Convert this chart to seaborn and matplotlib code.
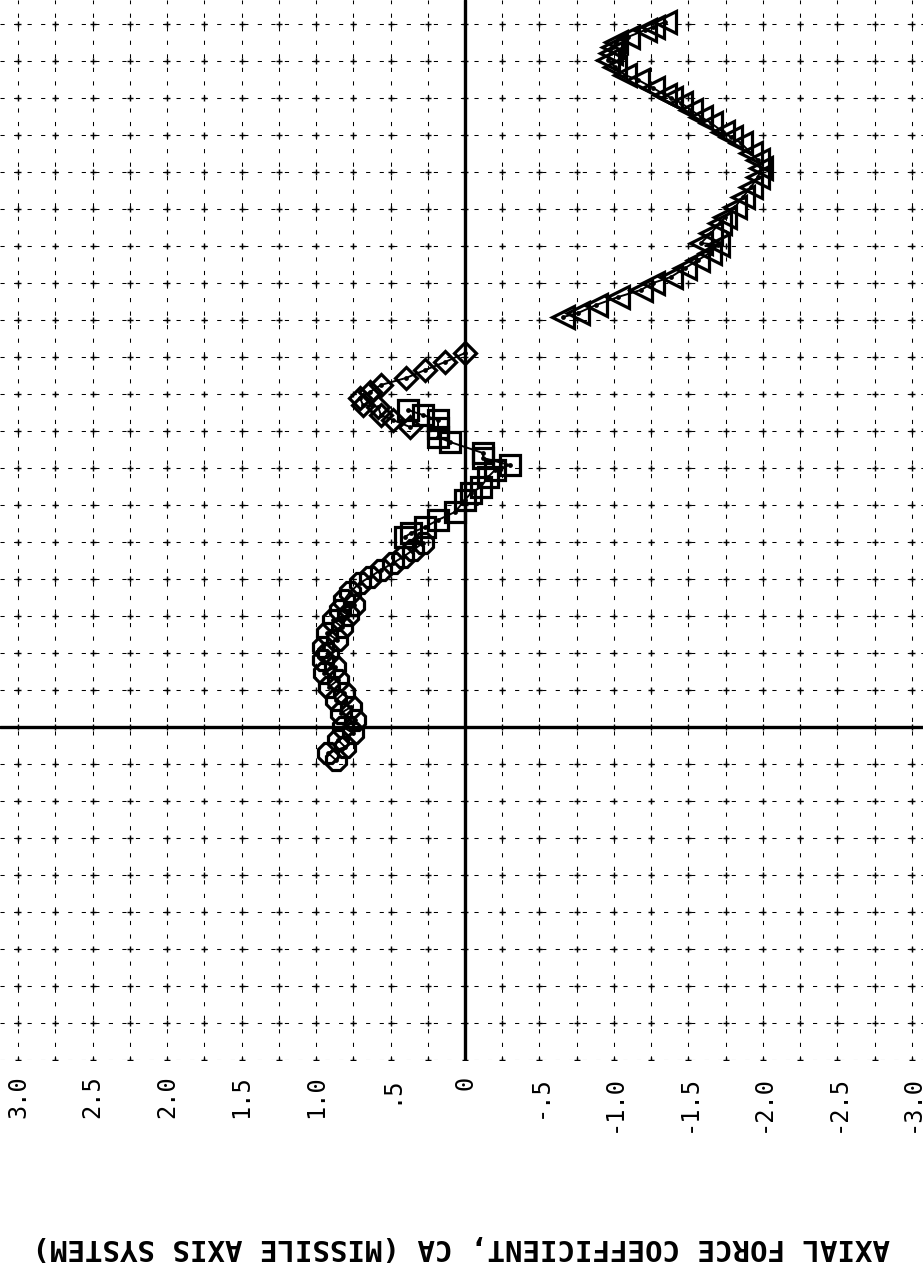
import numpy as np
import pandas as pd
import matplotlib
matplotlib.use("Agg")
import matplotlib.pyplot as plt
import seaborn as sns
from matplotlib.ticker import FixedLocator, MultipleLocator

# ---------------- data ----------------
tri_ca = [-0.658, -0.758, -0.879, -1.027, -1.181, -1.262, -1.383, -1.477, -1.564, -1.644,
          -1.698, -1.584, -1.651, -1.711, -1.745, -1.812, -1.866, -1.919, -1.966, -1.987,
          -1.966, -1.919, -1.852, -1.785, -1.732, -1.651, -1.584, -1.517, -1.450, -1.383,
          -1.342, -1.262, -1.161, -1.074, -1.007, -0.960, -0.980, -0.993, -1.013, -1.094,
          -1.208, -1.262, -1.342]
tri_y = [2.770, 2.797, 2.851, 2.905, 2.953, 3.000, 3.041, 3.101, 3.155, 3.203,
         3.257, 3.270, 3.338, 3.405, 3.446, 3.514, 3.581, 3.649, 3.716, 3.777,
         3.831, 3.878, 3.946, 3.986, 4.020, 4.081, 4.122, 4.169, 4.216, 4.250,
         4.270, 4.318, 4.372, 4.405, 4.459, 4.507, 4.554, 4.595, 4.628, 4.662,
         4.709, 4.730, 4.764]

dia_ca = [0.000, 0.134, 0.268, 0.396, 0.564, 0.638, 0.705, 0.685, 0.584, 0.564, 0.483, 0.369]
dia_y = [2.527, 2.466, 2.412, 2.358, 2.311, 2.264, 2.223, 2.176, 2.162, 2.108, 2.074, 2.027]

sq_ca = [0.383, 0.282, 0.181, 0.181, 0.181, 0.101, -0.121, -0.121, -0.302, -0.201,
         -0.154, -0.107, -0.040, 0.000, 0.067, 0.181, 0.268, 0.362, 0.403]
sq_y = [2.142, 2.108, 2.074, 2.020, 1.959, 1.926, 1.851, 1.818, 1.770, 1.736,
        1.689, 1.622, 1.581, 1.534, 1.453, 1.399, 1.351, 1.311, 1.284]

oct_ca = [0.282, 0.349, 0.416, 0.483, 0.564, 0.638, 0.705, 0.772,
          0.812, 0.745, 0.839, 0.785, 0.886, 0.826, 0.926, 0.859, 0.953, 0.919,
          0.953, 0.872, 0.946, 0.852, 0.913, 0.812, 0.866, 0.765, 0.832, 0.738,
          0.819, 0.752, 0.852, 0.805, 0.919, 0.866]
oct_y = [1.243, 1.196, 1.149, 1.108, 1.061, 1.014, 0.973, 0.912,
         0.858, 0.824, 0.791, 0.757, 0.723, 0.676, 0.635, 0.588, 0.541, 0.500,
         0.453, 0.405, 0.365, 0.318, 0.270, 0.230, 0.182, 0.135, 0.095, 0.047,
         0.000, -0.041, -0.088, -0.135, -0.176, -0.223]

tick_values = [3.0, 2.5, 2.0, 1.5, 1.0, 0.5, 0.0, -0.5, -1.0, -1.5, -2.0, -2.5, -3.0]
tick_labels = ["3.0", "2.5", "2.0", "1.5", "1.0", ".5", "0", "-.5", "-1.0", "-1.5", "-2.0", "-2.5", "-3.0"]
xlabel_text = "AXIAL FORCE COEFFICIENT, CA (MISSILE AXIS SYSTEM)"

# ---------------- figure ----------------
sns.set_style("white")
plt.rcParams["font.family"] = ["DejaVu Sans Mono", "DejaVu Sans"]

fig = plt.figure(figsize=(9.23, 12.66), dpi=100)
ax = fig.add_axes([0.0, 0.1627, 1.0, 0.8373])
ax.set_xlim(3.121, -3.074)
ax.set_ylim(-2.25, 4.912)

grid_x = np.arange(-3.0, 3.001, 0.25)
grid_y = np.arange(-2.25, 4.76, 0.25)
for gx in grid_x:
    ax.axvline(gx, color="black", lw=0.75, ls=(0, (4, 9)), zorder=1)
for gy in grid_y:
    ax.axhline(gy, color="black", lw=0.75, ls=(0, (4, 9)), zorder=1)
GX, GY = np.meshgrid(grid_x, grid_y)
ax.plot(GX.ravel(), GY.ravel(), "+", color="black", ms=4, mew=1.0, zorder=1)

ax.axvline(0, color="black", lw=2.4, zorder=2)
ax.axhline(0, color="black", lw=2.4, zorder=2)

series = [
    (oct_ca, oct_y, "8", 15),
    (sq_ca, sq_y, "s", 14),
    (dia_ca, dia_y, "D", 11),
    (tri_ca, tri_y, "<", 16),
]
for xs, ys, mk, ms in series:
    df = pd.DataFrame({"CA": xs, "Y": ys})
    sns.lineplot(data=df, x="CA", y="Y", sort=False, estimator=None, ax=ax,
                 color="black", lw=1.4, marker=mk, markersize=ms,
                 markerfacecolor="none", markeredgecolor="black",
                 markeredgewidth=2.3, zorder=3)
    sns.scatterplot(data=df, x="CA", y="Y", ax=ax, color="black", s=12,
                    linewidth=0, zorder=4)

for s in ax.spines.values():
    s.set_visible(False)
ax.set_yticks([])
ax.xaxis.set_major_locator(FixedLocator(tick_values))
ax.set_xticklabels(tick_labels, rotation=90, fontsize=17)
ax.xaxis.set_minor_locator(MultipleLocator(0.05))
ax.tick_params(axis="x", which="major", direction="out", length=10, width=1.5,
               color="black", pad=1, labelcolor="black")
ax.tick_params(axis="x", which="minor", direction="out", length=6, width=1.2, color="black")
ax.set_xlabel("")
ax.set_ylabel("")

fig.text(0.5, 0.015, xlabel_text, rotation=180, ha="center", va="center",
         fontsize=21, fontweight="bold", color="black")

fig.savefig("out.png", dpi=100)
